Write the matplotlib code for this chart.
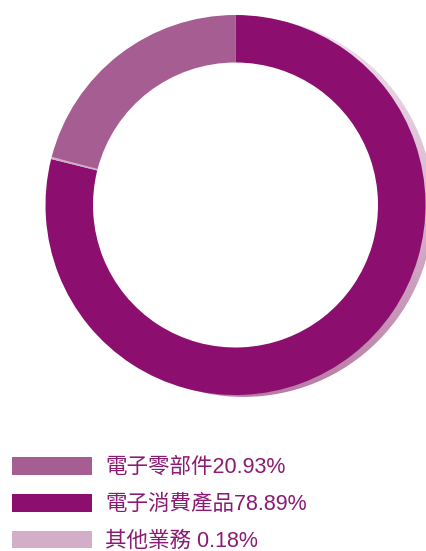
import numpy as np
import matplotlib.pyplot as plt
from matplotlib.patches import Circle
from matplotlib.colors import LinearSegmentedColormap

plt.rcParams['font.family'] = ['Liberation Sans', 'Noto Sans CJK TC']

# data (pie order: clockwise from top)
labels = ['電子零部件', '電子消費產品', '其他業務']
values = [20.93, 78.89, 0.18]
colors = ['#a65e92', '#8c0e6f', '#d3aec8']
pie_order = [1, 2, 0]
legend_labels = ['電子零部件20.93%', '電子消費產品78.89%', '其他業務 0.18%']
text_color = '#8b1a72'

W, H = 426, 551
cx, cy, R = 235.5, 205, 190.0   # pixels (cy from top)

fig = plt.figure(figsize=(W / 100, H / 100), dpi=100)
ax = fig.add_axes([0, 0, 1, 1])
ax.set_xlim(-cx / R, (W - cx) / R)
ax.set_ylim(-(H - cy) / R, cy / R)
ax.set_aspect('equal')
ax.axis('off')

# shadow: offset disc with vertical gradient
dx, dy = 0.042, -0.01
shadow_cmap = LinearSegmentedColormap.from_list('sh', ['#b97ca5', '#d9b6cf', '#eee2ec'])
grad = np.linspace(0, 1, 256).reshape(-1, 1)
im = ax.imshow(grad, cmap=shadow_cmap, origin='lower', aspect='auto',
               extent=(dx - 1, dx + 1, dy - 1, dy + 1), zorder=0)
im.set_clip_path(Circle((dx, dy), 1.0, transform=ax.transData))
ax.add_patch(Circle((0, 0), 0.75, color='white', zorder=1))

wedges, _ = ax.pie([values[i] for i in pie_order],
                   colors=[colors[i] for i in pie_order],
                   startangle=90, counterclock=False, radius=1.0,
                   wedgeprops=dict(width=0.25, edgecolor='none'))
for w in wedges:
    w.set_zorder(2)
ax.set_xlim(-cx / R, (W - cx) / R)
ax.set_ylim(-(H - cy) / R, cy / R)

# legend
handles = [wedges[pie_order.index(i)] for i in range(3)]
fs = 15.5
leg = ax.legend(handles, legend_labels, loc='upper left',
                bbox_to_anchor=(12 / W, 1 - 457 / H), bbox_transform=fig.transFigure,
                frameon=False, fontsize=fs, handlelength=3.72, handleheight=0.88,
                handletextpad=0.6, labelspacing=0.73, borderpad=0, borderaxespad=0)
for t in leg.get_texts():
    t.set_color(text_color)

fig.savefig('out.png', dpi=100)
